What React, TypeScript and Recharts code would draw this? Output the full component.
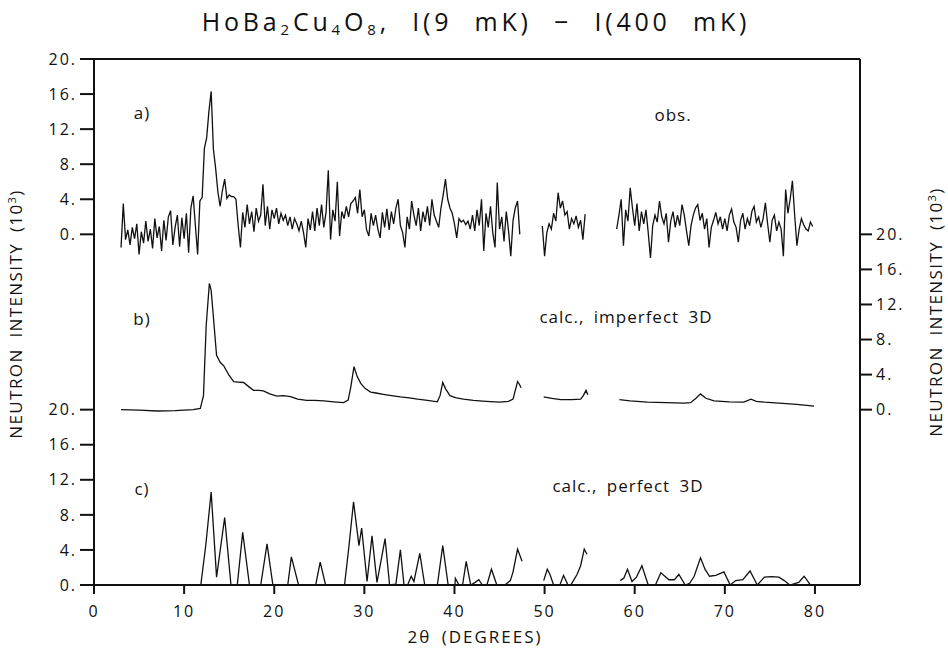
import React from 'react';
import { LineChart, Line, XAxis, YAxis, ReferenceLine } from 'recharts';

const FONT = "'Open Sans', 'DejaVu Sans', sans-serif";

// ---------- axis ticks ----------
const xTicks = [0, 10, 20, 30, 40, 50, 60, 70, 80];
const leftTicks = [0, 4, 8, 12, 16, 20, 40, 44, 48, 52, 56, 60];
const rightTicks = [20, 24, 28, 32, 36, 40];

// vertical offsets of the three stacked traces (in 10^3 counts)
const OFFSET_A = 40;
const OFFSET_B = 20;
const OFFSET_C = 0;

// ---------- a) observed: evenly stepped scans ----------
const obsStep = 0.25;
const obsStart1 = 3.0;
const obsSeg1 = [
  -1.5, 3.5, -0.6, 0.5, -1.2, 0.8, -0.5, 1.2,
  -2.3, 0.3, -1.0, 1.5, -0.8, 0.6, -1.6, 1.8,
  -0.4, 0.9, -1.9, 1.6, -0.7, 2.0, 2.7, -1.2,
  0.8, 2.2, -1.4, 1.9, -0.5, 2.4, -2.1, 3.0,
  4.4, 1.0, -2.3, 3.8, 4.2, 9.8, 11.0, 14.0,
  16.3, 9.7, 7.5, 4.8, 3.2, 5.0, 6.3, 4.1,
  4.5, 4.3, 4.3, 4.0, 1.0, -1.5, 2.5, 0.8,
  3.4, 1.2, 2.6, 0.3, 3.0, 1.5, 2.2, 5.7,
  1.0, 3.2, 0.6, 2.8, 1.8, 3.0, 1.2, 2.4,
  1.6, 2.2, 1.0, 2.0, 0.6, 1.8, 1.2, 0.4,
  1.5, 0.2, -1.5, 1.8, 0.5, 2.6, 0.4, 3.0,
  1.0, 3.4, 0.8, 2.5, 7.3, -0.6, 2.8, 1.5,
  6.0, -0.2, 2.6, 1.8, 3.2, 2.0, 3.5, 3.8,
  4.2, 2.4, 5.1, 2.0, 2.8, 0.5, -0.2, 2.4,
  1.0, 2.2, 0.6, -0.4, 2.5, 0.8, 2.9, 0.5,
  2.6, 1.2, 3.0, 4.0, 1.0, 0.2, -1.5, 2.0,
  0.6, 3.8, 2.2, 1.0, 3.0, 0.4, 2.6, 1.4,
  3.2, 1.0, 4.0, 2.2, 1.5, 0.8, 3.0, 4.5,
  6.3, 4.0, 3.0, 2.4, 1.2, -0.4, 1.8, 1.4,
  1.6, 1.1, 1.5, 0.6, 2.2, 0.4, 2.8, 1.0,
  4.0, -1.9, 2.4, 0.8, 3.2, 0.2, -1.5, 5.9,
  0.6, 2.0, -0.8, 2.6, 0.4, -2.5, 1.6, 3.0,
  3.8, 0.0,
];
const obsStart2 = 49.75;
const obsSeg2 = [
  0.95, -2.5, 0.2, 1.2, 0.6, 2.4, 1.5, 4.75, 3.0, 3.8,
  2.2, 2.6, 0.6, 1.8, 1.2, 2.1, 0.8, 1.6, -0.6, 2.3,
];
const obsStart3 = 58.0;
const obsSeg3 = [
  0.6, 2.2, 4.0, -1.3, 2.8, 1.5, 5.3, 3.0,
  1.0, 3.5, 0.4, 2.6, 1.2, 2.8, 0.2, -2.7,
  1.0, 2.2, 1.4, 3.8, 2.0, 1.2, 2.4, -0.9,
  1.5, 2.6, 0.8, 2.2, 1.0, 3.4, 2.2, 0.4,
  -1.3, 1.0, 2.2, 3.0, 3.4, 1.6, 2.4, 0.6,
  1.8, -1.5, 0.8, 1.6, 2.5, 1.2, 2.0, 0.6,
  1.8, 0.4, 2.2, 2.9, 1.4, 0.8, -0.9, 1.6,
  2.4, 0.6, 1.8, 1.0, 2.6, 3.2, 1.4, 2.0,
  0.8, 1.8, 3.6, 1.2, -0.9, 1.6, 2.2, 0.4,
  1.4, 0.6, -2.5, 5.1, 2.4, 4.0, 6.1, 2.2,
  -1.3, 0.6, 1.8, 1.1, 0.6, 0.4, 1.4, 0.9,
];

// ---------- b) calc., imperfect 3D ----------
const impAngles1 = [
  3.0, 5.0, 7.0, 9.0, 11.0, 11.8, 12.15, 12.45, 12.8, 13.0, 13.2, 13.6, 14.0, 14.4,
  15.0, 15.5, 16.0, 16.6, 17.2, 17.7, 18.3, 18.8, 19.5, 20.3, 21.0, 21.8, 22.6,
  23.6, 24.5, 25.5, 26.6, 27.7, 28.2, 28.5, 28.85, 29.2, 29.6, 30.1, 30.7, 31.3,
  32.1, 33.0, 34.0, 35.0, 35.9, 37.0, 38.1, 38.4, 38.7, 39.0, 39.5, 40.2, 41.0,
  42.1, 43.5, 45.0, 46.0, 46.5, 46.8, 47.0, 47.2, 47.4,
];
const impValues1 = [
  0.0, -0.05, -0.15, -0.1, 0.0, 0.15, 1.6, 9.6, 14.4, 13.6, 11.2, 6.2, 5.4, 5.0,
  3.9, 3.2, 3.15, 3.1, 2.6, 2.2, 2.2, 2.15, 1.8, 1.55, 1.6, 1.5, 1.2,
  1.05, 1.05, 1.0, 0.9, 0.8, 1.1, 2.6, 4.9, 3.8, 3.0, 2.4, 2.0, 1.9,
  1.75, 1.6, 1.45, 1.35, 1.2, 1.05, 0.9, 1.6, 3.1, 2.4, 1.6, 1.35, 1.2,
  1.05, 0.95, 0.85, 0.95, 1.2, 2.4, 3.2, 2.9, 2.5,
];
const impAngles2 = [49.9, 50.8, 51.8, 53.0, 54.0, 54.3, 54.6, 54.8];
const impValues2 = [1.45, 1.3, 1.15, 1.15, 1.2, 1.6, 2.2, 1.7];
const impAngles3 = [
  58.3, 59.5, 61.4, 63.5, 65.5, 66.2, 66.8, 67.3, 67.9, 68.8, 70.5, 72.1, 72.9,
  73.5, 74.4, 76.0, 78.0, 79.9,
];
const impValues3 = [
  1.15, 1.0, 0.85, 0.8, 0.75, 0.8, 1.3, 1.8, 1.3, 1.0, 0.9, 0.85, 1.2,
  0.95, 0.85, 0.75, 0.6, 0.4,
];

// ---------- c) calc., perfect 3D ----------
const perAngles1 = [
  3.0, 11.85, 12.4, 13.0, 13.6, 14.5, 15.2, 15.9, 16.5, 17.25, 18.5, 19.2, 19.85,
  21.5, 21.9, 22.7, 24.6, 25.1, 25.7, 27.8, 28.3, 28.8, 29.4, 29.7, 30.3, 30.85,
  31.4, 31.8, 32.3, 32.8, 33.5, 34.0, 34.4, 34.8, 35.2, 35.5, 36.15, 36.7, 38.1,
  38.7, 39.3, 39.7, 40.0, 40.1, 40.5, 40.9, 41.3, 41.8, 42.3, 42.7, 43.1, 43.6,
  44.1, 44.7, 45.6, 46.2, 46.5, 47.0, 47.5,
];
const perValues1 = [
  0, 0, 4.5, 10.6, 0.9, 7.7, 0, 0, 6.0, 0, 0, 4.7, 0,
  0, 3.2, 0, 0, 2.6, 0, 0, 4.5, 9.5, 4.5, 6.5, 0.4, 5.6,
  0.3, 2.5, 5.3, 0, 0.1, 4.0, 0, 0, 1.0, 0.4, 3.6, 0, 0,
  4.5, 0, 0, -1.1, 0.75, 0, 0, 2.7, 0, 0.3, 0.6, 0, 0,
  1.8, 0, 0, 0.5, 1.5, 4.1, 2.7,
];
const perAngles2 = [49.9, 50.3, 50.6, 51.0, 51.7, 52.1, 52.6, 52.9, 53.2, 53.6, 54.0, 54.4, 54.7];
const perValues2 = [0.5, 1.8, 1.2, 0, 0, 1.1, 0, 0, 0.5, 1.2, 2.2, 4.1, 3.5];
const perAngles3 = [
  58.4, 58.8, 59.2, 59.7, 60.2, 60.8, 61.5, 62.3, 62.9, 63.8, 64.4, 64.9, 65.6,
  66.1, 66.6, 67.3, 67.8, 68.3, 69.0, 69.9, 70.6, 71.2, 72.0, 72.8, 73.6, 74.4,
  75.2, 76.0, 76.6, 77.2, 78.2, 78.8, 79.5, 80.0,
];
const perValues3 = [
  0.5, 0.8, 1.8, 0.4, 0.9, 2.2, 0, 0, 1.4, 0.6, 0.6, 1.2, 0,
  0.2, 1.0, 3.1, 1.8, 1.0, 1.1, 1.5, 0, 0.5, 0.6, 1.6, 0, 0.9,
  0.95, 0.9, 0.5, 0, 0.3, 1.0, 0, 0,
];

// ---------- build series ----------
type Pt = { x: number; y: number };
const stepped = (start: number, vals: number[], off: number): Pt[] =>
  vals.map((v, i) => ({ x: Math.round((start + i * obsStep) * 100) / 100, y: v + off }));
const paired = (xs: number[], ys: number[], off: number): Pt[] =>
  xs.map((x, i) => ({ x, y: ys[i] + off }));

const segments: Pt[][] = [
  stepped(obsStart1, obsSeg1, OFFSET_A),
  stepped(obsStart2, obsSeg2, OFFSET_A),
  stepped(obsStart3, obsSeg3, OFFSET_A),
  paired(impAngles1, impValues1, OFFSET_B),
  paired(impAngles2, impValues2, OFFSET_B),
  paired(impAngles3, impValues3, OFFSET_B),
  paired(perAngles1, perValues1, OFFSET_C),
  paired(perAngles2, perValues2, OFFSET_C),
  paired(perAngles3, perValues3, OFFSET_C),
];

const INK = '#111';
const tickStyle = { fill: INK, fontSize: 16, fontFamily: FONT, fontWeight: 400, letterSpacing: 2 };

const textBase: React.CSSProperties = {
  position: 'absolute',
  fontFamily: FONT,
  fontWeight: 400,
  color: INK,
  whiteSpace: 'nowrap',
  transform: 'translate(-50%, -50%)',
  lineHeight: 1,
};

const Note = ({ x, y, size = 17, spacing = 1.0, children }: any) => (
  <div style={{ ...textBase, left: x, top: y, fontSize: size, letterSpacing: spacing, wordSpacing: 4 }}>
    {children}
  </div>
);

const VLabel = ({ x, y }: { x: number; y: number }) => (
  <div
    style={{
      ...textBase,
      left: x,
      top: y,
      fontSize: 17,
      letterSpacing: 1.4,
      wordSpacing: 5,
      transform: 'translate(-50%, -50%) rotate(-90deg)',
    }}
  >
    NEUTRON INTENSITY (10<span style={{ fontSize: 11, verticalAlign: 6, lineHeight: 0 }}>3</span>)
  </div>
);

export default function App() {
  const subStyle: React.CSSProperties = { fontSize: 15, verticalAlign: -4, lineHeight: 0 };
  return (
    <div style={{ position: 'absolute', left: 0, top: 0, width: 948, height: 652, background: '#fff' }}>
      <LineChart width={948} height={652} margin={{ top: 59, right: 28, bottom: 27, left: 24 }}>
        <XAxis
          xAxisId="b"
          dataKey="x"
          type="number"
          domain={[0, 85]}
          ticks={xTicks}
          interval={0}
          allowDataOverflow
          height={40}
          stroke={INK}
          strokeWidth={2}
          tickSize={9}
          tickMargin={12}
          tick={tickStyle}
        />
        <YAxis
          yAxisId="l"
          type="number"
          domain={[0, 60]}
          ticks={leftTicks}
          interval={0}
          allowDataOverflow
          width={70}
          stroke={INK}
          strokeWidth={2}
          tickSize={14}
          tickMargin={3}
          tick={tickStyle}
          tickFormatter={(v: number) => `${v >= 40 ? v - OFFSET_A : v}.`}
        />
        <YAxis
          yAxisId="r"
          orientation="right"
          type="number"
          domain={[0, 60]}
          ticks={rightTicks}
          interval={0}
          allowDataOverflow
          width={60}
          stroke={INK}
          strokeWidth={2}
          tickSize={12}
          tickMargin={4}
          tick={tickStyle}
          tickFormatter={(v: number) => `${v - OFFSET_B}.`}
        />
        <ReferenceLine yAxisId="l" xAxisId="b" y={60} stroke={INK} strokeWidth={2} ifOverflow="extendDomain" />
        {segments.map((seg, i) => (
          <Line
            key={i}
            data={seg}
            dataKey="y"
            xAxisId="b"
            yAxisId="l"
            type="linear"
            dot={false}
            activeDot={false}
            stroke={INK}
            strokeWidth={1.3}
            isAnimationActive={false}
          />
        ))}
      </LineChart>

      {/* title */}
      <div style={{ ...textBase, left: 476, top: 21, fontSize: 25, letterSpacing: 3.8, wordSpacing: 12 }}>
        HoBa<span style={subStyle}>2</span>Cu<span style={subStyle}>4</span>O<span style={subStyle}>8</span>, I(9 mK) − I(400 mK)
      </div>

      {/* panel annotations */}
      <Note x={142} y={112}>a)</Note>
      <Note x={673} y={114}>obs.</Note>
      <Note x={142} y={318}>b)</Note>
      <Note x={626} y={316}>calc., imperfect 3D</Note>
      <Note x={142} y={488}>c)</Note>
      <Note x={628} y={485}>calc., perfect 3D</Note>

      {/* axis titles */}
      <Note x={475} y={636} size={17} spacing={2}>2θ (DEGREES)</Note>
      <VLabel x={15} y={314} />
      <VLabel x={935} y={312} />
    </div>
  );
}
